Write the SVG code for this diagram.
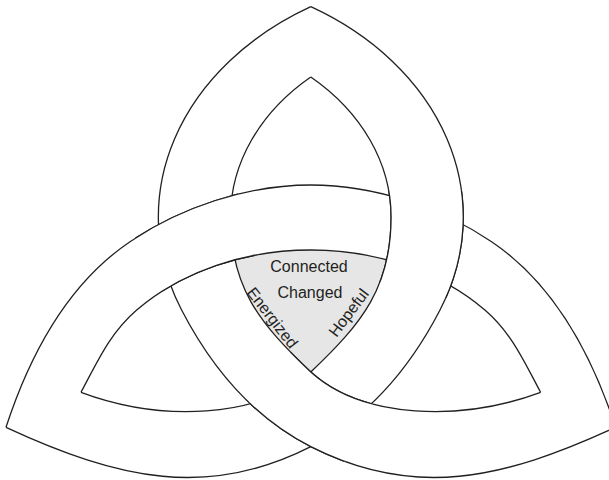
<svg xmlns="http://www.w3.org/2000/svg" width="609" height="480" viewBox="0 0 609 480">
<style>
.band{fill:#ffffff;stroke:none}
.edge{fill:none;stroke:#231f20;stroke-width:1.3;stroke-linejoin:round}
.lbl{font-family:"Liberation Sans",Arial,sans-serif;font-size:16px;fill:#231f20;text-anchor:middle}
</style>
<defs>
<path id="aOut" d="M310.8,6.7 A304.8,242.8 0 0 0 181.6,310 C204.6,354.4 244,412.7 310.8,446.7 C413.3,498.9 502.2,479.8 615.6,427.3"/>
<path id="bOut" d="M310.8,6.7 A304.8,242.8 0 0 1 440,310 C417,354.4 377.6,412.7 310.8,446.7 C208.3,498.9 119.4,479.8 6,427.3"/>
<path id="cOut" d="M6,427.3 C29.3,356 67.8,283.7 130,241.7 C179.8,208.1 245.8,185 310.8,185 C375.8,185 441.8,208.1 491.6,241.7 C553.8,283.7 592.3,356 615.6,427.3"/>
<path id="aIn" d="M310.8,77 A232.7,185.4 0 0 0 230.5,217 C230.5,287 259,322.9 310.8,372 C362.6,418.9 460.7,422 540.6,392.3"/>
<path id="bIn" d="M310.8,77 A232.7,185.4 0 0 1 391.1,217 C391.1,287 362.6,322.9 310.8,372 C259,418.9 160.9,422 81,392.3"/>
<path id="cIn" d="M81,392.3 C97.5,361.5 110.1,332.8 136.7,310 C182.3,271 245.8,250 310.8,250 C375.8,250 439.3,271 484.9,310 C511.5,332.8 524.1,361.5 540.6,392.3"/>
<path id="aBand" d="M310.8,6.7 A304.8,242.8 0 0 0 181.6,310 C204.6,354.4 244,412.7 310.8,446.7 C413.3,498.9 502.2,479.8 615.6,427.3 L540.6,392.3 C460.7,422 362.6,418.9 310.8,372 C259,322.9 230.5,287 230.5,217 A232.7,185.4 0 0 1 310.8,77 Z"/>
<path id="bBand" d="M310.8,6.7 A304.8,242.8 0 0 1 440,310 C417,354.4 377.6,412.7 310.8,446.7 C208.3,498.9 119.4,479.8 6,427.3 L81,392.3 C160.9,422 259,418.9 310.8,372 C362.6,322.9 391.1,287 391.1,217 A232.7,185.4 0 0 0 310.8,77 Z"/>
<path id="cBand" d="M6,427.3 C29.3,356 67.8,283.7 130,241.7 C179.8,208.1 245.8,185 310.8,185 C375.8,185 441.8,208.1 491.6,241.7 C553.8,283.7 592.3,356 615.6,427.3 L540.6,392.3 C524.1,361.5 511.5,332.8 484.9,310 C439.3,271 375.8,250 310.8,250 C245.8,250 182.3,271 136.7,310 C110.1,332.8 97.5,361.5 81,392.3 Z"/>
<clipPath id="clipCA"><circle cx="197" cy="240" r="62"/></clipPath>
<clipPath id="clipBC"><circle cx="424.6" cy="240" r="62"/></clipPath>
<clipPath id="clipAB"><circle cx="310.8" cy="410" r="62"/></clipPath>
</defs>
<rect width="609" height="480" fill="#ffffff"/>
<g id="center-region">
<polygon points="200,240 421.6,240 310.8,410" fill="#e6e6e7"/>
</g>
<g id="band-fills">
<use href="#aBand" class="band"/>
<use href="#bBand" class="band"/>
<use href="#cBand" class="band"/>
</g>
<g id="band-edges">
<use href="#aOut" class="edge"/>
<use href="#aIn" class="edge"/>
<use href="#bOut" class="edge"/>
<use href="#bIn" class="edge"/>
<use href="#cOut" class="edge"/>
<use href="#cIn" class="edge"/>
</g>
<g id="crossing-c-over-a" clip-path="url(#clipCA)">
<use href="#cBand" class="band"/>
<use href="#cOut" class="edge"/>
<use href="#cIn" class="edge"/>
</g>
<g id="crossing-b-over-c" clip-path="url(#clipBC)">
<use href="#bBand" class="band"/>
<use href="#bOut" class="edge"/>
<use href="#bIn" class="edge"/>
</g>
<g id="crossing-a-over-b" clip-path="url(#clipAB)">
<use href="#aBand" class="band"/>
<use href="#aOut" class="edge"/>
<use href="#aIn" class="edge"/>
</g>
<g id="labels">
<text class="lbl" x="309" y="272">Connected</text>
<text class="lbl" x="310" y="298">Changed</text>
<text class="lbl" transform="translate(272,318) rotate(52)" x="0" y="5">Energized</text>
<text class="lbl" transform="translate(349,313) rotate(-53)" x="0" y="5">Hopeful</text>
</g>
</svg>
